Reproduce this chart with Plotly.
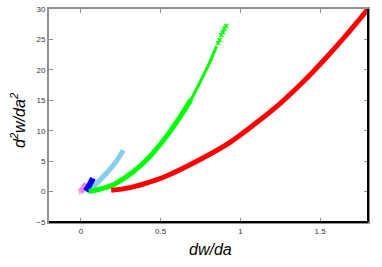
import plotly.graph_objects as go

# series (dw/da, d2w/da2)
red_x = [0.19, 0.30, 0.40, 0.54, 0.75, 0.93, 1.10, 1.25, 1.40, 1.52, 1.65, 1.80]
red_y = [0.2, 0.6, 1.3, 2.6, 5.3, 8.0, 11.3, 14.5, 18.2, 21.5, 25.3, 30.0]

green_x = [0.05, 0.12, 0.20, 0.33, 0.43, 0.52, 0.62, 0.69]
green_y = [0.0, 0.4, 1.1, 3.3, 5.7, 8.5, 12.2, 15.1]
green_upper_x = [0.69, 0.74, 0.78, 0.81, 0.85]
green_upper_y = [15.1, 17.6, 19.7, 21.4, 23.9]
green_sparse_x = [0.86, 0.87, 0.88, 0.89, 0.90, 0.91]
green_sparse_y = [24.4, 24.9, 25.7, 26.2, 26.8, 27.2]

sky_x = [0.04, 0.07, 0.12, 0.17, 0.22, 0.265]
sky_y = [0.0, 0.6, 1.9, 3.3, 4.9, 6.8]

blue_x = [0.03, 0.045, 0.06, 0.075]
blue_y = [0.1, 0.7, 1.4, 2.2]

violet_x = [0.0, 0.015, 0.035]
violet_y = [0.0, 0.5, 1.3]

pink_x = [-0.015, 0.0, 0.01]
pink_y = [0.0, 0.1, 0.3]

x_ticks = [0, 0.5, 1, 1.5]
x_tick_text = ["0", "0.5", "1", "1.5"]
y_ticks = [-5, 0, 5, 10, 15, 20, 25, 30]

FONT = "Liberation Sans, Arial, sans-serif"

fig = go.Figure()
fig.add_trace(go.Scatter(x=pink_x, y=pink_y, mode="lines",
                         line=dict(color="#ffb6c1", width=6, shape="spline")))
fig.add_trace(go.Scatter(x=violet_x, y=violet_y, mode="lines",
                         line=dict(color="#ee82ee", width=6, shape="spline")))
fig.add_trace(go.Scatter(x=sky_x, y=sky_y, mode="lines",
                         line=dict(color="#87ceeb", width=5, shape="spline")))
fig.add_trace(go.Scatter(x=blue_x, y=blue_y, mode="lines",
                         line=dict(color="#0000ff", width=6, shape="spline")))
fig.add_trace(go.Scatter(x=green_x, y=green_y, mode="lines",
                         line=dict(color="#00ff00", width=5, shape="spline")))
fig.add_trace(go.Scatter(x=green_upper_x, y=green_upper_y, mode="lines",
                         line=dict(color="#00ff00", width=3, shape="spline")))
fig.add_trace(go.Scatter(x=green_sparse_x, y=green_sparse_y, mode="markers",
                         marker=dict(color="#00ff00", symbol="x-thin", size=4,
                                     line=dict(color="#00ff00", width=1.5))))
fig.add_trace(go.Scatter(x=red_x, y=red_y, mode="lines",
                         line=dict(color="#ff0000", width=5, shape="spline")))

axis_common = dict(showgrid=False, zeroline=False, showline=True, automargin=False,
                   linecolor="#909090", linewidth=2, mirror="ticks",
                   ticks="inside", ticklen=4, tickcolor="#909090", tickwidth=1,
                   tickfont=dict(family=FONT, size=8, color="#333333"))

fig.update_layout(
    width=382, height=267,
    margin=dict(l=49, r=14, t=9, b=45),
    paper_bgcolor="white", plot_bgcolor="white",
    showlegend=False,
    xaxis=dict(range=[-0.2, 1.8], tickvals=x_ticks, ticktext=x_tick_text,
               **axis_common),
    yaxis=dict(range=[-5, 30], tickvals=y_ticks, **axis_common),
    annotations=[
        dict(text="<i>dw/da</i>", xref="paper", yref="paper", x=0.505, y=-0.131,
             showarrow=False, xanchor="center", yanchor="middle",
             font=dict(family=FONT, size=16, color="black")),
        dict(text="<i>d<sup>2</sup>w/da<sup>2</sup></i>", xref="paper", yref="paper",
             x=-0.097, y=0.479, textangle=-90,
             showarrow=False, xanchor="center", yanchor="middle",
             font=dict(family=FONT, size=16, color="black")),
    ],
    shapes=[
        dict(type="line", xref="paper", yref="paper", x0=0, x1=1, y0=0, y1=0,
             line=dict(color="black", width=2), layer="above"),
        dict(type="line", xref="paper", yref="paper", x0=1, x1=1, y0=0, y1=1,
             line=dict(color="black", width=2), layer="above"),
    ],
)

fig.write_html("out.html",
               config={"displayModeBar": False},
               post_script="document.body.style.margin='0';document.body.style.overflow='hidden';")
